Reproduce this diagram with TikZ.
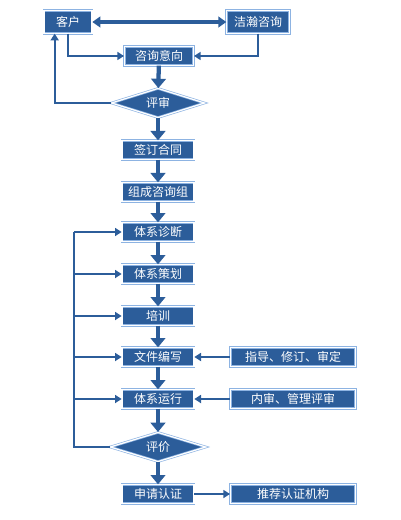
\documentclass[tikz,border=0pt]{standalone}
\usepackage{fontspec}
\newfontfamily\cjk{Noto Sans CJK SC}
\usetikzlibrary{positioning, arrows.meta, shapes.geometric}
\definecolor{boxblue}{HTML}{2C5D9A}
\definecolor{rimblue}{HTML}{8DB3E2}

\begin{document}
\begin{tikzpicture}[x=0.75pt,y=-0.75pt,font=\cjk\fontsize{9}{10}\selectfont,
    box/.style={draw=rimblue, double=white, double distance=0.9pt, line width=0.5pt,
        fill=boxblue, text=white, inner sep=0pt, minimum width=54pt, minimum height=14pt},
    decision/.style={box, diamond, aspect=3.2, minimum width=70pt, minimum height=22pt},
    flowarrow/.style={boxblue, line width=3.2pt, -{Triangle[width=11pt,length=7pt]}},
    sideline/.style={boxblue, line width=1.6pt},
    sidearrow/.style={sideline, -{Triangle[width=6pt,length=5pt]}}]
    \useasboundingbox (0,0) rectangle (400,520);
    \node[box, minimum width=36pt, minimum height=17pt] (kehu) at (68,22) {客户};
    \node[box, minimum width=47pt, minimum height=17pt] (jiehan) at (258,22) {洁瀚咨询};
    \node[box, minimum width=52pt] (yixiang) at (159,56) {咨询意向};
    \node[decision] (pingshen) at (158,103) {评审};
    \foreach \name/\y/\label in {qianding/150/签订合同, zucheng/192/组成咨询组,
        zhenduan/232/体系诊断, cehua/274/体系策划, peixun/316/培训,
        bianxie/357/文件编写, yunxing/399/体系运行, shenqing/494/申请认证}{
        \node[box] (\name) at (158,\y) {\label};
    }
    \node[decision, minimum width=72pt] (pingjia) at (158,447) {评价};
    \foreach \name/\y/\label in {zhidao/357/指导、修订、审定, neishen/399/内审、管理评审,
        tuijian/494/推荐认证机构}{
        \node[box, minimum width=94pt] (\name) at (293,\y) {\label};
    }
    \draw[boxblue, line width=2.4pt, {Triangle[width=8pt,length=6pt]}-{Triangle[width=8pt,length=6pt]}]
        (kehu) -- (jiehan);
    \draw[sidearrow] (kehu.south) |- (yixiang.west);
    \draw[sidearrow] (jiehan.south) |- (yixiang.east);
    \draw[sidearrow] (pingshen.west) -| ([xshift=-10pt]kehu.south);
    \foreach \from/\to in {yixiang/pingshen, pingshen/qianding, qianding/zucheng,
        zucheng/zhenduan, zhenduan/cehua, cehua/peixun, peixun/bianxie,
        bianxie/yunxing, yunxing/pingjia, pingjia/shenqing}{
        \draw[flowarrow] (\from) -- (\to);
    }
    \coordinate (loop) at (74,232);
    \draw[sideline] (pingjia.west) -| (loop);
    \foreach \name in {zhenduan, cehua, peixun, bianxie, yunxing}{
        \draw[sidearrow] (loop |- \name.west) -- (\name.west);
    }
    \draw[sidearrow] (zhidao) -- (bianxie);
    \draw[sidearrow] (neishen) -- (yunxing);
    \draw[sidearrow] (shenqing) -- (tuijian);
\end{tikzpicture}
\end{document}
